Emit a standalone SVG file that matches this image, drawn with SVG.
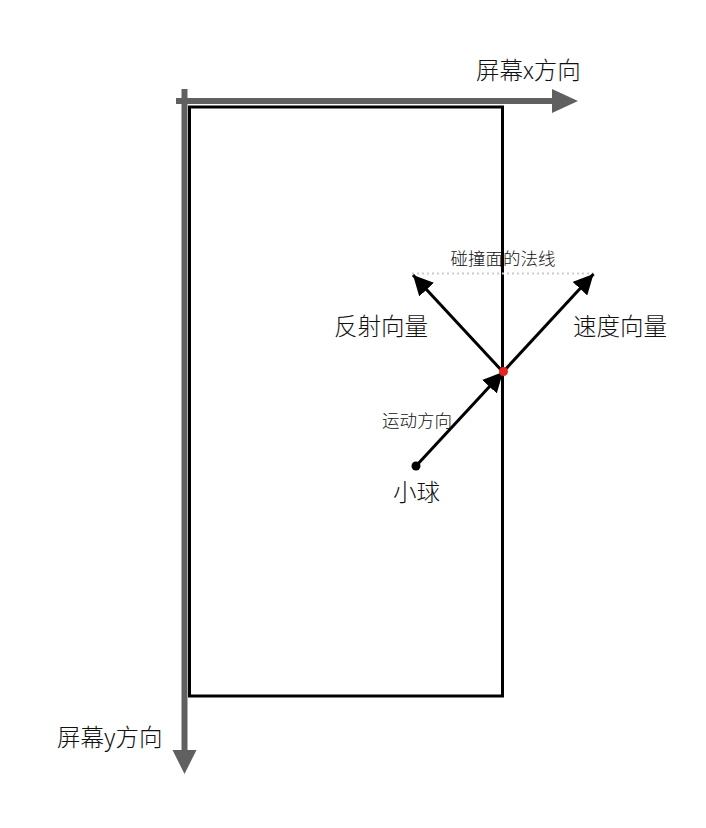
<svg xmlns="http://www.w3.org/2000/svg" width="706" height="828" viewBox="0 0 706 828">
<style>
.t{font-family:"Noto Sans CJK SC","Noto Sans",sans-serif;font-weight:300;fill:#111}
.big{font-size:23.5px}
.sm{font-size:17.5px}
.vec{stroke:#000;stroke-width:3;fill:none}
</style>
<defs>
<marker id="ah" markerUnits="userSpaceOnUse" markerWidth="20" markerHeight="20" refX="16" refY="8" orient="auto" viewBox="0 0 16 16">
<path d="M0,0 L16,8 L0,16 Z" fill="#000"/>
</marker>
</defs>
<rect width="706" height="828" fill="#fff"/>
<g id="screen-rect">
<rect x="189.5" y="107" width="313" height="589" fill="none" stroke="#000" stroke-width="3"/>
</g>
<g id="axes">
<line x1="176" y1="101" x2="554" y2="101" stroke="#606060" stroke-width="6"/>
<polygon points="552,89 578,101 552,113" fill="#606060"/>
<line x1="184.5" y1="89" x2="184.5" y2="752" stroke="#606060" stroke-width="6"/>
<polygon points="172.5,750 196.5,750 184.5,774" fill="#606060"/>
</g>
<g id="normal">
<line x1="412" y1="273.5" x2="594" y2="273.5" stroke="#ccc" stroke-width="2" stroke-dasharray="2,3"/>
</g>
<g id="connectors">
<line class="vec" x1="416" y1="466" x2="503" y2="372" marker-end="url(#ah)"/>
<line class="vec" x1="503" y1="372" x2="413" y2="275" marker-end="url(#ah)"/>
<line class="vec" x1="503" y1="372" x2="593.5" y2="274" marker-end="url(#ah)"/>
</g>
<g id="ball"><circle cx="416" cy="466" r="4.5" fill="#000"/></g>
<g id="hit"><circle cx="503.5" cy="371.5" r="4.5" fill="#e8231f"/></g>
<g id="labels">
<text class="t big" x="476" y="79">屏幕x方向</text>
<text class="t big" x="57" y="746">屏幕y方向</text>
<text class="t sm" x="503" y="265" text-anchor="middle">碰撞面的法线</text>
<text class="t big" x="334" y="335">反射向量</text>
<text class="t big" x="573" y="335">速度向量</text>
<text class="t sm" x="382" y="427">运动方向</text>
<text class="t big" x="393" y="501">小球</text>
</g>
</svg>
